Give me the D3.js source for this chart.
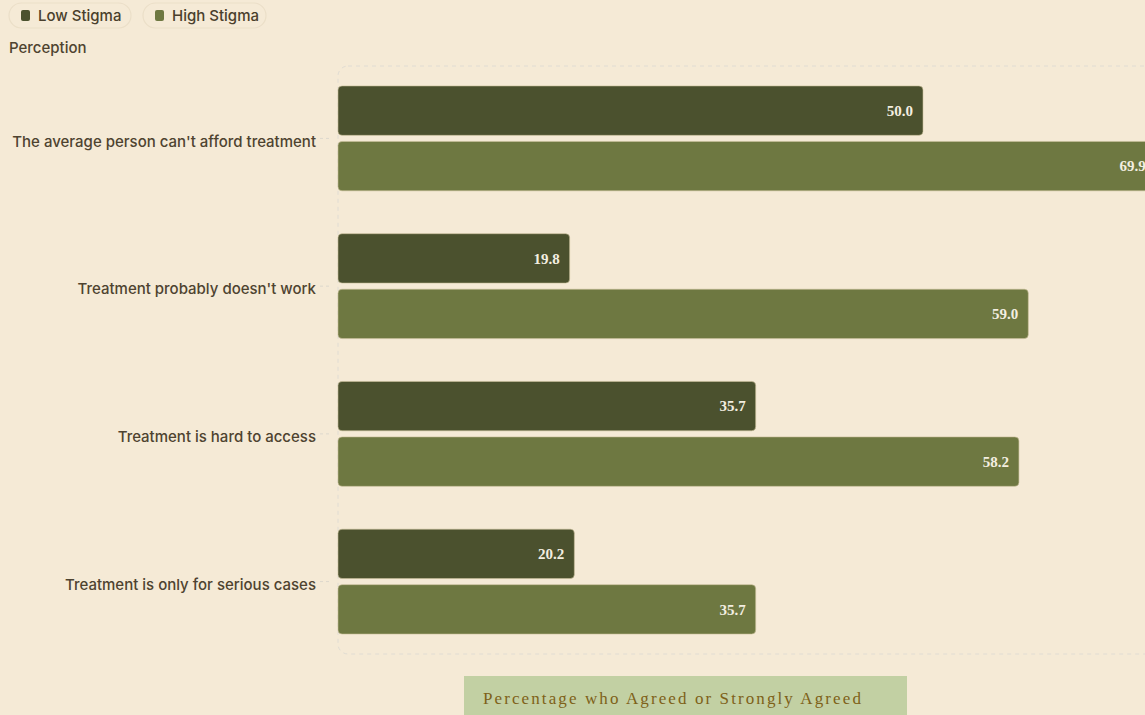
<!DOCTYPE html>
<html>
<head>
<meta charset="utf-8">
<script src="https://cdn.jsdelivr.net/npm/d3@7"></script>
<style>
  body { margin: 0; background: #f5ead6; overflow: hidden; }
  svg { display: block; }
</style>
</head>
<body>
<div id="chart"></div>
<script>
// chart data
const perceptions = [
    "The average person can't afford treatment",
    "Treatment probably doesn't work",
    "Treatment is hard to access",
    "Treatment is only for serious cases"
];
const seriesNames = ["Low Stigma", "High Stigma"];
const lowStigma = [50.0, 19.8, 35.7, 20.2];
const highStigma = [69.9, 59.0, 58.2, 35.7];
const colors = ["#4b512e", "#6e7841"];

const W = 1145, H = 715;
const margin = { top: 66, left: 338, bottom: 61 };
const plotH = H - margin.top - margin.bottom;

var svg = d3.select("#chart").append("svg")
    .attr("width", W)
    .attr("height", H);

svg.append("rect").attr("width", W).attr("height", H).attr("fill", "#f5ead6");

// x scale - runs past the right edge like the original
var x = d3.scaleLinear()
    .domain([0, 70])
    .range([0, 819]);

var y = d3.scaleBand()
    .domain(perceptions)
    .range([0, plotH])
    .paddingInner(0.29)
    .paddingOuter(0.135);

var ySub = d3.scaleBand()
    .domain(seriesNames)
    .range([0, y.bandwidth()])
    .paddingInner(0.11);

var g = svg.append("g")
    .attr("transform", "translate(" + margin.left + "," + margin.top + ")");

// dashed plot frame
g.append("rect")
    .attr("x", 0).attr("y", 0)
    .attr("width", 900).attr("height", plotH)
    .attr("rx", 10)
    .attr("fill", "none")
    .attr("stroke", "#e0dcd3")
    .attr("stroke-width", 1)
    .attr("stroke-dasharray", "4,4");

// y axis
var yAxis = g.append("g")
    .call(d3.axisLeft(y).tickSize(10).tickPadding(12));
yAxis.select(".domain").remove();
yAxis.selectAll(".tick line")
    .attr("stroke", "#ddd8cd")
    .attr("stroke-dasharray", "3,3")
    .attr("x1", -18).attr("x2", -8);
yAxis.selectAll(".tick text")
    .attr("x", -22)
    .attr("dy", "0.55em")
    .style("font-family", "Inter, 'Noto Sans', sans-serif")
    .style("font-size", "15px")
    .style("font-weight", "500")
    .attr("fill", "#4e4330");

// bars
var rows = perceptions.map((p, i) => ({ p: p, vals: [lowStigma[i], highStigma[i]] }));

var grp = g.selectAll(".grp")
    .data(rows)
    .enter().append("g")
    .attr("transform", d => "translate(0," + y(d.p) + ")");

var bar = grp.selectAll(".bar")
    .data(d => d.vals.map((v, j) => ({ name: seriesNames[j], v: v, j: j })))
    .enter();

bar.append("rect")
    .attr("x", x(0))
    .attr("y", d => ySub(d.name))
    .attr("width", d => x(d.v) - x(0))
    .attr("height", ySub.bandwidth())
    .attr("rx", 4)
    .attr("fill", d => colors[d.j])
    .attr("stroke", "#c9bf9a")
    .attr("stroke-width", 0.6);

bar.append("text")
    .attr("x", d => x(d.v) - 10)
    .attr("y", d => ySub(d.name) + ySub.bandwidth() / 2)
    .attr("dy", "0.35em")
    .attr("text-anchor", "end")
    .style("font-family", "'Liberation Serif', 'DejaVu Serif', serif")
    .style("font-size", "15px")
    .style("font-weight", "bold")
    .attr("fill", "#f3eee0")
    .text(d => d.v.toFixed(1));

// legend pills
var legend = svg.append("g");
var pillX = [9, 143], pillW = [122, 123];
seriesNames.forEach((name, i) => {
    var lg = legend.append("g").attr("transform", "translate(" + pillX[i] + ",3)");
    lg.append("rect")
        .attr("width", pillW[i]).attr("height", 25)
        .attr("rx", 12.5)
        .attr("fill", "#f5ead6")
        .attr("stroke", "#ebdfc8")
        .attr("stroke-width", 1.2);
    lg.append("rect")
        .attr("x", 12).attr("y", 7)
        .attr("width", 9).attr("height", 11)
        .attr("rx", 2)
        .attr("fill", colors[i]);
    lg.append("text")
        .attr("x", 29).attr("y", 12.5)
        .attr("dy", "0.35em")
        .style("font-family", "Inter, 'Noto Sans', sans-serif")
        .style("font-size", "15px")
        .style("font-weight", "500")
        .attr("fill", "#4a3f2c")
        .text(name);
});

// y axis title
svg.append("text")
    .attr("x", 9).attr("y", 48)
    .attr("dy", "0.35em")
    .style("font-family", "Inter, 'Noto Sans', sans-serif")
    .style("font-size", "15px")
    .style("font-weight", "500")
    .attr("fill", "#4e4330")
    .text("Perception");

// x axis title box
svg.append("rect")
    .attr("x", 464).attr("y", 676)
    .attr("width", 443).attr("height", 39)
    .attr("fill", "#c2d0a3");
svg.append("text")
    .attr("x", 483).attr("y", 698)
    .attr("dy", "0.35em")
    .style("font-family", "'Liberation Serif', 'DejaVu Serif', serif")
    .style("font-size", "17px")
    .style("letter-spacing", "2.1px")
    .attr("fill", "#7e6118")
    .text("Percentage who Agreed or Strongly Agreed");
</script>
</body>
</html>
